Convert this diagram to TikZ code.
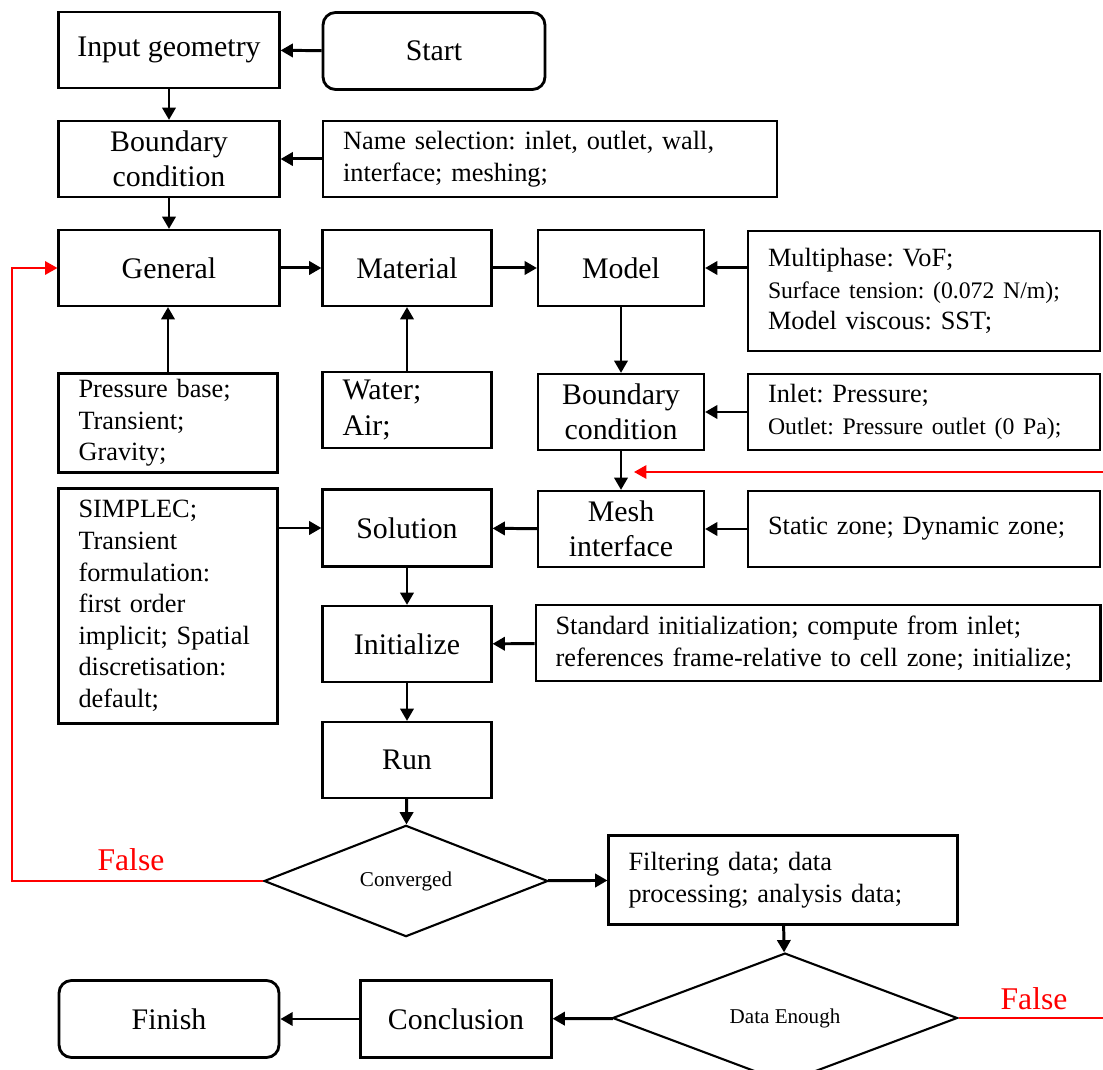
\documentclass[tikz,border=0pt]{standalone}
\usepackage{fontspec}
\setmainfont{Liberation Serif}
\usetikzlibrary{shapes.geometric, arrows.meta}
\frenchspacing

\begin{document}
\begin{tikzpicture}[x=0.02cm, y=-0.02cm,
    box/.style={draw, line width=1.2pt, inner sep=0pt, align=center,
        font=\fontsize{17}{20}\selectfont},
    info/.style={draw, line width=1.2pt, inner xsep=0.4cm, inner ysep=0pt,
        align=left, font=\fontsize{15}{18}\selectfont},
    terminal/.style={box, rounded corners=0.25cm, line width=1.6pt},
    decision/.style={diamond, draw, line width=1.2pt, inner sep=0pt,
        font=\fontsize{12}{14}\selectfont},
    arr/.style={-{Triangle[length=7pt,width=7.5pt]}, line width=1.7pt},
    redarr/.style={arr, red, line width=1.3pt},
    redline/.style={red, line width=1.3pt},
    falsetxt/.style={text=red, font=\fontsize{18}{20}\selectfont}]

\useasboundingbox (0,0) rectangle (1103,1070);

\node[terminal, minimum width=4.44cm, minimum height=1.54cm] (start) at (434, 51) {Start};
\node[box, minimum width=4.42cm, minimum height=1.52cm] (geom) at (169, 50) {Input geometry};
\node[box, minimum width=4.42cm, minimum height=1.52cm] (bc1) at (169, 159) {Boundary\\condition};
\node[info, text width=8.28cm, minimum height=1.52cm] (names) at (550, 159)
    {Name selection: inlet, outlet, wall,\\interface; meshing;};

\node[box, minimum width=4.42cm, minimum height=1.52cm] (general) at (169, 268) {General};
\node[box, minimum width=3.38cm, minimum height=1.52cm] (material) at (407, 268) {Material};
\node[box, minimum width=3.32cm, minimum height=1.52cm] (model) at (621, 268) {Model};
\node[info, text width=6.24cm, minimum height=2.4cm] (multi) at (924, 291)
    {Multiphase: VoF;\\{\fontsize{13.5}{16}\selectfont Surface tension: (0.072 N/m);}\\Model viscous: SST;};

\node[info, text width=3.58cm, minimum height=1.98cm] (press) at (168, 423)
    {Pressure base;\\Transient;\\Gravity;};
\node[info, text width=2.58cm, minimum height=1.52cm, font=\fontsize{17}{21}\selectfont] (water) at (407, 410)
    {Water;\\Air;};
\node[box, minimum width=3.32cm, minimum height=1.52cm] (bc2) at (621, 412) {Boundary\\condition};
\node[info, text width=6.24cm, minimum height=1.52cm] (inlet) at (924, 412)
    {Inlet: Pressure;\\{\fontsize{13.5}{16}\selectfont Outlet:\ Pressure outlet (0 Pa);}};

\node[box, minimum width=3.32cm, minimum height=1.52cm] (mesh) at (621, 529) {Mesh\\interface};
\node[info, text width=6.24cm, minimum height=1.52cm] (static) at (924, 529)
    {Static zone; Dynamic\ zone;};
\node[info, text width=3.58cm, minimum height=4.7cm] (simplec) at (168, 606)
    {SIMPLEC;\\Transient\\formulation:\\first order\\implicit; Spatial\\discretisation:\\default;};
\node[box, minimum width=3.38cm, minimum height=1.54cm] (solution) at (407, 528) {Solution};
\node[box, minimum width=3.38cm, minimum height=1.52cm] (init) at (407, 644) {Initialize};
\node[info, text width=10.5cm, minimum height=1.52cm] (stdinit) at (818, 643)
    {Standard initialization; compute from inlet;\\references frame-relative to cell zone; initialize;};
\node[box, minimum width=3.38cm, minimum height=1.52cm] (run) at (407, 760) {Run};

\node[decision, minimum width=5.68cm, minimum height=1.72cm] (conv) at (406, 881) {Converged};
\node[info, text width=6.18cm, minimum height=1.78cm] (filter) at (783, 880)
    {Filtering data; data\\processing; analysis data;};
\node[decision, minimum width=6.9cm, minimum height=2.24cm] (enough) at (785, 1018) {Data Enough};
\node[box, minimum width=3.82cm, minimum height=1.54cm] (concl) at (456, 1019) {Conclusion};
\node[terminal, minimum width=4.4cm, minimum height=1.54cm] (finish) at (169, 1019) {Finish};

\foreach \a/\b in {start/geom, geom/bc1, names/bc1, bc1/general, general/material,
    material/model, water/material, model/bc2, inlet/bc2, bc2/mesh, static/mesh,
    mesh/solution, solution/init, stdinit/init, init/run, run/conv, conv/filter,
    filter/enough, enough/concl, concl/finish}{
    \draw[arr] (\a) -- (\b);
}
\draw[arr] (multi.west |- model.east) -- (model.east);
\draw[arr] (press.north) -- (press.north |- general.south);
\draw[arr] (simplec.east |- solution.west) -- (solution.west);

\coordinate (loopc) at (12, 881);
\coordinate (backin) at (1103, 472);
\coordinate (backtip) at (634, 472);
\coordinate (rightend) at (1103, 1018);
\draw[redarr] (conv.west) -- (loopc) |- (general.west);
\draw[redarr] (backin) -- (backtip);
\draw[redline] (enough.east) -- (rightend);
\node[falsetxt] (false1) at (131, 860) {False};
\node[falsetxt] (false2) at (1034, 999) {False};

\end{tikzpicture}
\end{document}
